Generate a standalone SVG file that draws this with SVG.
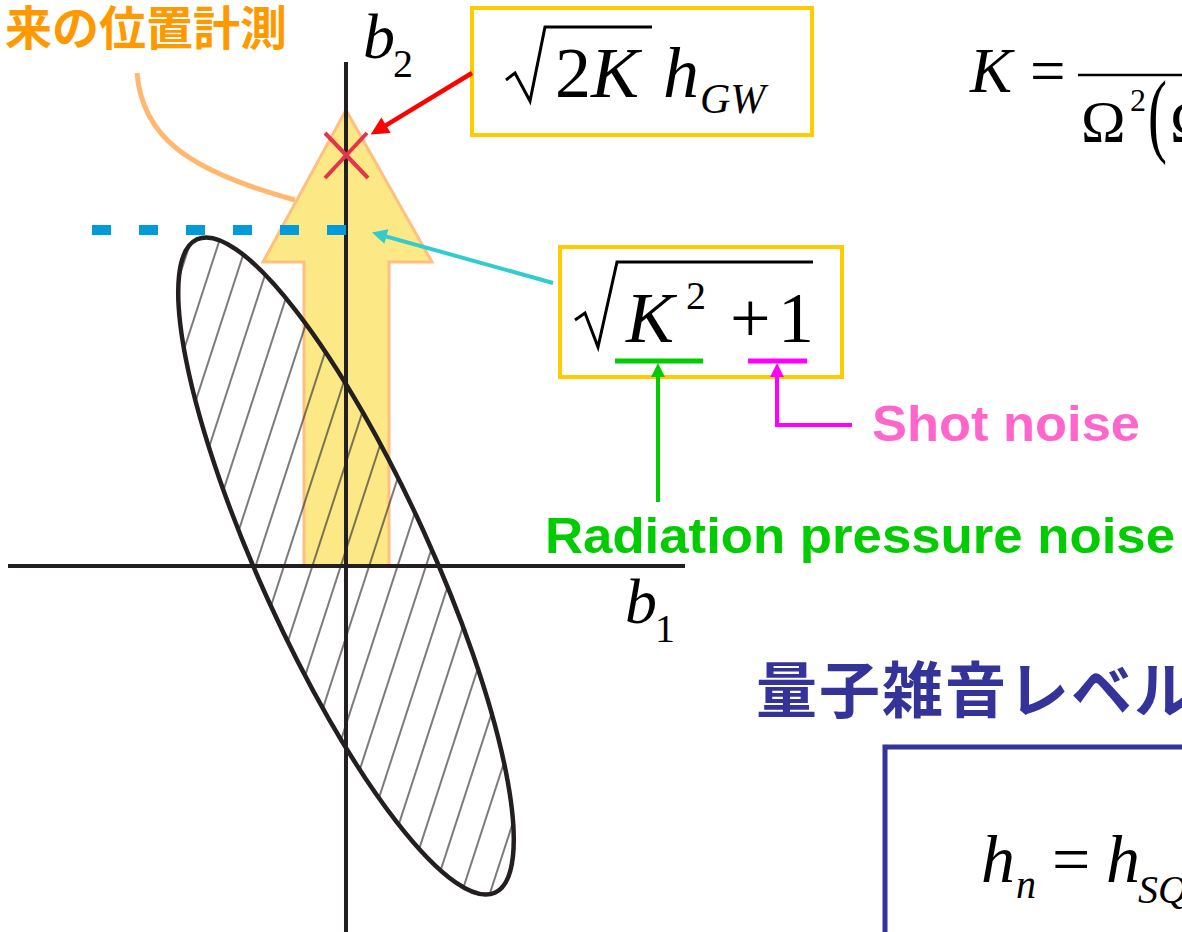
<svg xmlns="http://www.w3.org/2000/svg" width="1182" height="932" viewBox="0 0 1182 932">
<style>
.math{font-family:"Liberation Serif","Times New Roman",serif;fill:#000}
.it{font-style:italic}
.lbl{font-family:"Liberation Sans",Arial,sans-serif;font-weight:bold}
.cjk{font-family:"Noto Sans CJK JP","Noto Sans CJK SC",sans-serif;font-weight:bold}
.ybox{fill:#fff;stroke:#FFCC00;stroke-width:4}
.axis{stroke:#231F20;stroke-width:4;fill:none}
</style>
<defs>
<pattern id="hatch" width="27" height="20" patternUnits="userSpaceOnUse" patternTransform="rotate(18)">
<line x1="13" y1="0" x2="13" y2="20" stroke="#333" stroke-width="1.3"/>
</pattern>
<clipPath id="ellClip">
<ellipse cx="346" cy="566" rx="359" ry="85" transform="rotate(65.5 346 566)"/>
</clipPath>
<marker id="mRed" viewBox="0 0 10 10" refX="6" refY="5" markerWidth="20" markerHeight="18" markerUnits="userSpaceOnUse" orient="auto"><path d="M0,0 L10,5 L0,10 z" fill="#FF0000"/></marker>
<marker id="mCyan" viewBox="0 0 10 10" refX="6" refY="5" markerWidth="20" markerHeight="15" markerUnits="userSpaceOnUse" orient="auto"><path d="M0,0 L10,5 L0,10 z" fill="#33CCCC"/></marker>
<marker id="mGreen" viewBox="0 0 10 10" refX="6" refY="5" markerWidth="14" markerHeight="14" markerUnits="userSpaceOnUse" orient="auto"><path d="M0,0 L10,5 L0,10 z" fill="#00CC00"/></marker>
<marker id="mMag" viewBox="0 0 10 10" refX="6" refY="5" markerWidth="14" markerHeight="14" markerUnits="userSpaceOnUse" orient="auto"><path d="M0,0 L10,5 L0,10 z" fill="#FF00FF"/></marker>
</defs>
<rect width="1182" height="932" fill="#fff"/>

<g id="signal-arrow">
<polygon points="346,110 432,262 389,262 389,566 304,566 304,262 263,262" fill="#FDE886" stroke="#FFBF80" stroke-width="3" stroke-linejoin="miter"/>
</g>

<g id="noise-ellipse">
<rect x="150" y="220" width="380" height="700" fill="url(#hatch)" clip-path="url(#ellClip)"/>
<ellipse cx="346" cy="566" rx="359" ry="85" transform="rotate(65.5 346 566)" fill="none" stroke="#231F20" stroke-width="4.5"/>
</g>

<g id="axes">
<line class="axis" x1="346" y1="62" x2="346" y2="932" stroke-width="3.5"/>
<line class="axis" x1="8" y1="566" x2="685" y2="566"/>
<text class="math" x="363" y="58" font-size="64"><tspan class="it">b</tspan><tspan x="393" y="77" font-size="40">2</tspan></text>
<text class="math" x="625" y="623" font-size="64"><tspan class="it">b</tspan><tspan x="655" y="642" font-size="40">1</tspan></text>
</g>

<g id="gw-mark">
<line x1="325" y1="133" x2="368" y2="178" stroke="#E5334B" stroke-width="4"/>
<line x1="325" y1="178" x2="367" y2="133" stroke="#E5334B" stroke-width="4"/>
</g>

<g id="noise-level">
<line x1="92" y1="230" x2="346" y2="230" stroke="#009BD8" stroke-width="10" stroke-dasharray="19 28"/>
</g>

<g id="old-measure-label">
<text class="cjk" x="5" y="45" font-size="47" fill="#FF9900">来の位置計測</text>
</g>

<g id="box-gw">
<rect class="ybox" x="472" y="8" width="340" height="127"/>
<path d="M506,80 L515,73 L530,101 L545,27 L652,27" fill="none" stroke="#000" stroke-width="3"/>
<text class="math" y="97" font-size="72"><tspan x="555">2</tspan><tspan class="it">K</tspan><tspan class="it" x="663">h</tspan><tspan class="it" x="700" y="113" font-size="42">GW</tspan></text>
</g>

<g id="box-noise">
<rect class="ybox" x="560" y="247" width="282" height="130"/>
<path d="M575,320 L585,313 L598,347 L617,262 L813,262" fill="none" stroke="#000" stroke-width="3"/>
<text class="math" x="626" y="342" font-size="72" font-style="italic">K</text>
<text class="math" x="686" y="309" font-size="40">2</text>
<text class="math" x="730" y="342" font-size="72">+</text>
<text class="math" x="778" y="342" font-size="72">1</text>
<line x1="615" y1="361" x2="703" y2="361" stroke="#00CC00" stroke-width="5"/>
<line x1="748" y1="361" x2="807" y2="361" stroke="#FF00FF" stroke-width="5"/>
</g>

<g id="label-shot">
<text class="lbl" x="872" y="441" font-size="50" fill="#FF66CC" textLength="268" lengthAdjust="spacingAndGlyphs">Shot noise</text>
</g>

<g id="label-rp">
<text class="lbl" x="545" y="553" font-size="50" fill="#00CC00" textLength="630" lengthAdjust="spacingAndGlyphs">Radiation pressure noise</text>
</g>

<g id="K-formula">
<text class="math" font-size="63"><tspan class="it" x="970" y="92">K</tspan><tspan x="1030" y="92">=</tspan></text>
<line x1="1078" y1="75" x2="1182" y2="75" stroke="#000" stroke-width="2.5"/>
<text class="math" x="1081" y="142" font-size="60">Ω</text>
<text class="math" x="1130" y="111" font-size="32">2</text>
<text class="math" x="0" y="0" font-size="60" transform="translate(1148,145) scale(0.95,1.55)">(</text>
<text class="math" x="1170" y="142" font-size="60">Ω</text>
</g>

<g id="title-quantum">
<text class="cjk" x="756" y="713" font-size="61" letter-spacing="2" fill="#333399">量子雑音レベル</text>
</g>

<g id="box-hn">
<rect x="885" y="747" width="400" height="300" fill="none" stroke="#333399" stroke-width="5"/>
<text class="math" font-size="68"><tspan class="it" x="981" y="882">h</tspan><tspan class="it" x="1016" y="898" font-size="40">n</tspan><tspan x="1052" y="882">=</tspan><tspan class="it" x="1106" y="882">h</tspan><tspan class="it" x="1138" y="903" font-size="40">SQL</tspan></text>
</g>

<g id="connectors">
<path d="M137,73 C142,135 185,170 295,200" fill="none" stroke="#FFB870" stroke-width="5"/>
<line x1="472" y1="73" x2="376.8" y2="130.8" stroke="#FF0000" stroke-width="4.5" marker-end="url(#mRed)"/>
<line x1="553" y1="283" x2="377.7" y2="234.1" stroke="#33CCCC" stroke-width="4" marker-end="url(#mCyan)"/>
<line x1="658" y1="502" x2="658" y2="368.6" stroke="#00CC00" stroke-width="4" marker-end="url(#mGreen)"/>
<polyline points="852,425 777,425 777,368.6" fill="none" stroke="#FF00FF" stroke-width="4" marker-end="url(#mMag)"/>
</g>
</svg>
